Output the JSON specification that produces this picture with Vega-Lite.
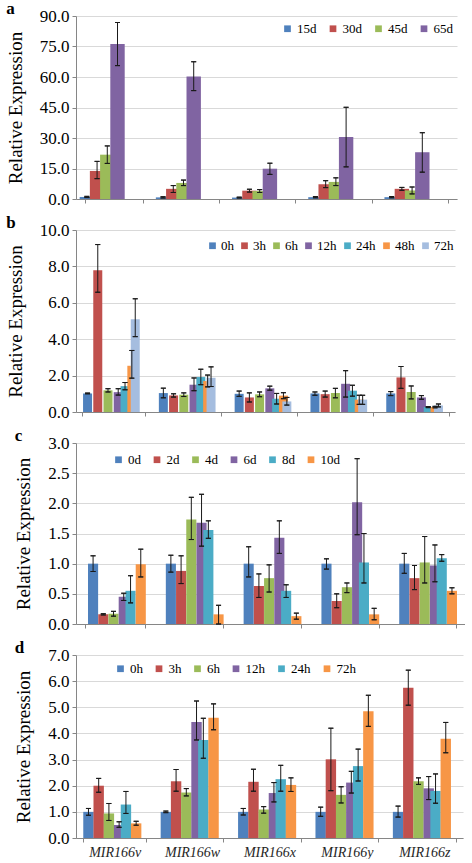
{
  "$schema": "https://vega.github.io/schema/vega-lite/v6.json",
  "padding": {"left": 6, "top": 0, "right": 0, "bottom": 0},
  "background": "white",
  "config": {
    "font": "Liberation Serif",
    "view": {"stroke": null},
    "style": {"guide-label": {"font": "Liberation Serif"}, "guide-title": {"font": "Liberation Serif"}, "group-title": {"font": "Liberation Serif"}},
    "axis": {
      "labelFont": "Liberation Serif", "labelFontSize": 17, "labelColor": "#000",
      "titleFont": "Liberation Serif", "titleFontSize": 19, "titleFontWeight": "normal", "titleColor": "#000",
      "domainColor": "#868686", "tickColor": "#868686", "gridColor": "#D9D9D9", "tickSize": 4, "labelPadding": 3
    },
    "legend": {
      "labelFont": "Liberation Serif", "labelFontSize": 13, "labelColor": "#000",
      "symbolType": "square", "symbolSize": 45, "symbolStrokeWidth": 0, "gridAlign": "each",
      "direction": "horizontal", "orient": "none", "padding": 0, "labelOffset": 3, "columnPadding": 9.5
    },
    "title": {"font": "Liberation Serif", "fontSize": 17, "fontWeight": "bold", "color": "#000", "anchor": "start", "frame": "bounds", "offset": -11}
  },
  "datasets": {
    "a": [
      {"g": "MIR166v", "t": "15d", "v": 1.0, "lo": 0.7, "hi": 1.3},
      {"g": "MIR166v", "t": "30d", "v": 13.8, "lo": 10.0, "hi": 18.5},
      {"g": "MIR166v", "t": "45d", "v": 21.8, "lo": 17.5, "hi": 26.1},
      {"g": "MIR166v", "t": "65d", "v": 76.2, "lo": 65.6, "hi": 86.8},
      {"g": "MIR166w", "t": "15d", "v": 0.8, "lo": 0.5, "hi": 1.1},
      {"g": "MIR166w", "t": "30d", "v": 5.0, "lo": 3.2, "hi": 6.6},
      {"g": "MIR166w", "t": "45d", "v": 7.9, "lo": 6.6, "hi": 9.3},
      {"g": "MIR166w", "t": "65d", "v": 60.2, "lo": 53.3, "hi": 67.5},
      {"g": "MIR166x", "t": "15d", "v": 0.7, "lo": 0.5, "hi": 0.9},
      {"g": "MIR166x", "t": "30d", "v": 4.1, "lo": 3.4, "hi": 4.8},
      {"g": "MIR166x", "t": "45d", "v": 3.9, "lo": 3.2, "hi": 4.6},
      {"g": "MIR166x", "t": "65d", "v": 14.9, "lo": 12.1, "hi": 17.6},
      {"g": "MIR166y", "t": "15d", "v": 0.9, "lo": 0.6, "hi": 1.2},
      {"g": "MIR166y", "t": "30d", "v": 7.3, "lo": 5.6, "hi": 9.0},
      {"g": "MIR166y", "t": "45d", "v": 8.4, "lo": 6.6, "hi": 10.4},
      {"g": "MIR166y", "t": "65d", "v": 30.5, "lo": 15.8, "hi": 45.1},
      {"g": "MIR166z", "t": "15d", "v": 0.9, "lo": 0.6, "hi": 1.2},
      {"g": "MIR166z", "t": "30d", "v": 5.0, "lo": 4.3, "hi": 5.7},
      {"g": "MIR166z", "t": "45d", "v": 4.2, "lo": 2.5, "hi": 5.9},
      {"g": "MIR166z", "t": "65d", "v": 23.0, "lo": 13.2, "hi": 32.6}
    ],
    "b": [
      {"g": "MIR166v", "t": "0h", "v": 1.02, "lo": 1.0, "hi": 1.04},
      {"g": "MIR166v", "t": "3h", "v": 7.79, "lo": 6.58, "hi": 9.2},
      {"g": "MIR166v", "t": "6h", "v": 1.19, "lo": 1.1, "hi": 1.28},
      {"g": "MIR166v", "t": "12h", "v": 1.09, "lo": 0.93, "hi": 1.28},
      {"g": "MIR166v", "t": "24h", "v": 1.42, "lo": 1.22, "hi": 1.62},
      {"g": "MIR166v", "t": "48h", "v": 2.54, "lo": 1.86, "hi": 3.38},
      {"g": "MIR166v", "t": "72h", "v": 5.09, "lo": 4.14, "hi": 6.22},
      {"g": "MIR166w", "t": "0h", "v": 1.04, "lo": 0.78, "hi": 1.31},
      {"g": "MIR166w", "t": "3h", "v": 0.91, "lo": 0.82, "hi": 1.0},
      {"g": "MIR166w", "t": "6h", "v": 0.95, "lo": 0.85, "hi": 1.05},
      {"g": "MIR166w", "t": "12h", "v": 1.5, "lo": 1.17, "hi": 1.87},
      {"g": "MIR166w", "t": "24h", "v": 1.92, "lo": 1.5, "hi": 2.35},
      {"g": "MIR166w", "t": "48h", "v": 1.7, "lo": 1.38, "hi": 2.03},
      {"g": "MIR166w", "t": "72h", "v": 1.88, "lo": 1.4, "hi": 2.48},
      {"g": "MIR166x", "t": "0h", "v": 1.0, "lo": 0.86, "hi": 1.15},
      {"g": "MIR166x", "t": "3h", "v": 0.8, "lo": 0.55, "hi": 1.05},
      {"g": "MIR166x", "t": "6h", "v": 0.97, "lo": 0.84, "hi": 1.1},
      {"g": "MIR166x", "t": "12h", "v": 1.3, "lo": 1.2, "hi": 1.42},
      {"g": "MIR166x", "t": "24h", "v": 0.73, "lo": 0.44, "hi": 1.02},
      {"g": "MIR166x", "t": "48h", "v": 0.9, "lo": 0.73, "hi": 1.06},
      {"g": "MIR166x", "t": "72h", "v": 0.58, "lo": 0.38, "hi": 0.8},
      {"g": "MIR166y", "t": "0h", "v": 1.02, "lo": 0.92, "hi": 1.1},
      {"g": "MIR166y", "t": "3h", "v": 0.98, "lo": 0.82, "hi": 1.15},
      {"g": "MIR166y", "t": "6h", "v": 1.04, "lo": 0.78, "hi": 1.3},
      {"g": "MIR166y", "t": "12h", "v": 1.55, "lo": 0.82, "hi": 2.27},
      {"g": "MIR166y", "t": "24h", "v": 1.17, "lo": 0.87, "hi": 1.47},
      {"g": "MIR166y", "t": "48h", "v": 0.68, "lo": 0.42, "hi": 0.92},
      {"g": "MIR166y", "t": "72h", "v": 0.68, "lo": 0.42, "hi": 0.92},
      {"g": "MIR166z", "t": "0h", "v": 1.02, "lo": 0.9, "hi": 1.12},
      {"g": "MIR166z", "t": "3h", "v": 1.9, "lo": 1.3, "hi": 2.5},
      {"g": "MIR166z", "t": "6h", "v": 1.1, "lo": 0.72, "hi": 1.43},
      {"g": "MIR166z", "t": "12h", "v": 0.8, "lo": 0.7, "hi": 0.9},
      {"g": "MIR166z", "t": "24h", "v": 0.27, "lo": 0.24, "hi": 0.3},
      {"g": "MIR166z", "t": "48h", "v": 0.27, "lo": 0.23, "hi": 0.31},
      {"g": "MIR166z", "t": "72h", "v": 0.36, "lo": 0.28, "hi": 0.44}
    ],
    "c": [
      {"g": "MIR166v", "t": "0d", "v": 1.0, "lo": 0.87, "hi": 1.13},
      {"g": "MIR166v", "t": "2d", "v": 0.16, "lo": 0.15, "hi": 0.17},
      {"g": "MIR166v", "t": "4d", "v": 0.17, "lo": 0.13, "hi": 0.21},
      {"g": "MIR166v", "t": "6d", "v": 0.45, "lo": 0.39, "hi": 0.51},
      {"g": "MIR166v", "t": "8d", "v": 0.55, "lo": 0.35, "hi": 0.8},
      {"g": "MIR166v", "t": "10d", "v": 0.99, "lo": 0.78, "hi": 1.24},
      {"g": "MIR166w", "t": "0d", "v": 1.0, "lo": 0.86, "hi": 1.14},
      {"g": "MIR166w", "t": "2d", "v": 0.88, "lo": 0.67, "hi": 1.13},
      {"g": "MIR166w", "t": "4d", "v": 1.73, "lo": 1.4, "hi": 2.1},
      {"g": "MIR166w", "t": "6d", "v": 1.68, "lo": 1.29, "hi": 2.15},
      {"g": "MIR166w", "t": "8d", "v": 1.56, "lo": 1.42, "hi": 1.71},
      {"g": "MIR166w", "t": "10d", "v": 0.16, "lo": 0.0, "hi": 0.31},
      {"g": "MIR166x", "t": "0d", "v": 1.0, "lo": 0.78, "hi": 1.28},
      {"g": "MIR166x", "t": "2d", "v": 0.63, "lo": 0.44, "hi": 0.83},
      {"g": "MIR166x", "t": "4d", "v": 0.76, "lo": 0.53, "hi": 0.98},
      {"g": "MIR166x", "t": "6d", "v": 1.43, "lo": 1.17, "hi": 1.71},
      {"g": "MIR166x", "t": "8d", "v": 0.55, "lo": 0.44, "hi": 0.65},
      {"g": "MIR166x", "t": "10d", "v": 0.13, "lo": 0.08, "hi": 0.18},
      {"g": "MIR166y", "t": "0d", "v": 1.0, "lo": 0.91, "hi": 1.08},
      {"g": "MIR166y", "t": "2d", "v": 0.38, "lo": 0.27, "hi": 0.5},
      {"g": "MIR166y", "t": "4d", "v": 0.61, "lo": 0.52, "hi": 0.68},
      {"g": "MIR166y", "t": "6d", "v": 2.02, "lo": 1.48, "hi": 2.74},
      {"g": "MIR166y", "t": "8d", "v": 1.02, "lo": 0.68, "hi": 1.5},
      {"g": "MIR166y", "t": "10d", "v": 0.16, "lo": 0.07, "hi": 0.26},
      {"g": "MIR166z", "t": "0d", "v": 1.0, "lo": 0.84, "hi": 1.17},
      {"g": "MIR166z", "t": "2d", "v": 0.76, "lo": 0.57, "hi": 0.97},
      {"g": "MIR166z", "t": "4d", "v": 1.02, "lo": 0.68, "hi": 1.45},
      {"g": "MIR166z", "t": "6d", "v": 0.97, "lo": 0.7, "hi": 1.31},
      {"g": "MIR166z", "t": "8d", "v": 1.09, "lo": 1.04, "hi": 1.15},
      {"g": "MIR166z", "t": "10d", "v": 0.55, "lo": 0.5, "hi": 0.6}
    ],
    "d": [
      {"g": "MIR166v", "t": "0h", "v": 1.0, "lo": 0.87, "hi": 1.13},
      {"g": "MIR166v", "t": "3h", "v": 2.0, "lo": 1.75, "hi": 2.28},
      {"g": "MIR166v", "t": "6h", "v": 0.94, "lo": 0.67, "hi": 1.32},
      {"g": "MIR166v", "t": "12h", "v": 0.5, "lo": 0.41, "hi": 0.62},
      {"g": "MIR166v", "t": "24h", "v": 1.28, "lo": 0.94, "hi": 1.78},
      {"g": "MIR166v", "t": "72h", "v": 0.56, "lo": 0.49, "hi": 0.64},
      {"g": "MIR166w", "t": "0h", "v": 1.0, "lo": 0.97, "hi": 1.03},
      {"g": "MIR166w", "t": "3h", "v": 2.17, "lo": 1.79, "hi": 2.62},
      {"g": "MIR166w", "t": "6h", "v": 1.74, "lo": 1.61, "hi": 1.89},
      {"g": "MIR166w", "t": "12h", "v": 4.44, "lo": 3.75, "hi": 5.24},
      {"g": "MIR166w", "t": "24h", "v": 3.75, "lo": 3.05, "hi": 4.58},
      {"g": "MIR166w", "t": "72h", "v": 4.6, "lo": 4.14, "hi": 5.13},
      {"g": "MIR166x", "t": "0h", "v": 1.0, "lo": 0.88, "hi": 1.13},
      {"g": "MIR166x", "t": "3h", "v": 2.15, "lo": 1.79, "hi": 2.63},
      {"g": "MIR166x", "t": "6h", "v": 1.09, "lo": 0.95, "hi": 1.2},
      {"g": "MIR166x", "t": "12h", "v": 1.72, "lo": 1.38, "hi": 2.12},
      {"g": "MIR166x", "t": "24h", "v": 2.25, "lo": 1.79, "hi": 2.78},
      {"g": "MIR166x", "t": "72h", "v": 2.03, "lo": 1.78, "hi": 2.3},
      {"g": "MIR166y", "t": "0h", "v": 1.0, "lo": 0.83, "hi": 1.18},
      {"g": "MIR166y", "t": "3h", "v": 3.01, "lo": 1.81, "hi": 4.2},
      {"g": "MIR166y", "t": "6h", "v": 1.65, "lo": 1.34, "hi": 1.96},
      {"g": "MIR166y", "t": "12h", "v": 2.12, "lo": 1.72, "hi": 2.55},
      {"g": "MIR166y", "t": "24h", "v": 2.75, "lo": 2.18, "hi": 3.4},
      {"g": "MIR166y", "t": "72h", "v": 4.85, "lo": 4.27, "hi": 5.46},
      {"g": "MIR166z", "t": "0h", "v": 1.0, "lo": 0.8, "hi": 1.22},
      {"g": "MIR166z", "t": "3h", "v": 5.75, "lo": 5.08, "hi": 6.42},
      {"g": "MIR166z", "t": "6h", "v": 2.17, "lo": 2.05, "hi": 2.3},
      {"g": "MIR166z", "t": "12h", "v": 1.9, "lo": 1.47, "hi": 2.35},
      {"g": "MIR166z", "t": "24h", "v": 1.8, "lo": 1.33, "hi": 2.45},
      {"g": "MIR166z", "t": "72h", "v": 3.8, "lo": 3.26, "hi": 4.42}
    ]
  },
  "vconcat": [
    {
      "width": 381, "height": 183,
      "title": {"text": "a"},
      "data": {"name": "a"},
      "encoding": {
        "x": {"field": "g", "type": "nominal", "sort": null, "scale": {"type": "band", "paddingInner": 0.24, "paddingOuter": 0.12},
              "axis": {"title": null, "labels": false, "tickBand": "extent", "grid": false}},
        "xOffset": {"field": "t", "type": "nominal", "sort": ["15d", "30d", "45d", "65d"], "scale": {"type": "band", "paddingInner": 0, "paddingOuter": 0}},
        "y": {"field": "v", "type": "quantitative", "title": "Relative Expression",
              "scale": {"domain": [0, 90], "nice": false},
              "axis": {"values": [0, 15, 30, 45, 60, 75, 90], "format": ".1f", "titlePadding": 14, "labelOverlap": false, "labelFont": "Liberation Serif"}}
      },
      "layer": [
        {"mark": {"type": "bar", "width": 14.4},
         "encoding": {
           "color": {"field": "t", "type": "nominal",
                     "scale": {"domain": ["15d", "30d", "45d", "65d"], "range": ["#4F81BD", "#C0504D", "#9BBB59", "#8064A2"]},
                     "legend": {"title": null, "legendX": 205, "legendY": 6, "labelFont": "Liberation Serif"}}
         }},
        {"mark": {"type": "bar", "width": 1, "color": "#1a1a1a"},
         "encoding": {"y": {"field": "lo", "type": "quantitative"}, "y2": {"field": "hi"}}},
        {"mark": {"type": "bar", "width": 5, "fill": "#1a1a1a", "stroke": "#1a1a1a", "strokeWidth": 1},
         "encoding": {"y": {"field": "lo", "type": "quantitative"}, "y2": {"field": "lo"}}},
        {"mark": {"type": "bar", "width": 5, "fill": "#1a1a1a", "stroke": "#1a1a1a", "strokeWidth": 1},
         "encoding": {"y": {"field": "hi", "type": "quantitative"}, "y2": {"field": "hi"}}}
      ]
    },
    {
      "width": 379, "height": 182,
      "title": {"text": "b"},
      "data": {"name": "b"},
      "encoding": {
        "x": {"field": "g", "type": "nominal", "sort": null, "scale": {"type": "band", "paddingInner": 0.17, "paddingOuter": 0.085},
              "axis": {"title": null, "labels": false, "tickBand": "extent", "grid": false}},
        "xOffset": {"field": "t", "type": "nominal", "sort": ["0h", "3h", "6h", "12h", "24h", "48h", "72h"], "scale": {"type": "band", "paddingInner": 0, "paddingOuter": 0}},
        "y": {"field": "v", "type": "quantitative", "title": "Relative Expression",
              "scale": {"domain": [0, 10], "nice": false},
              "axis": {"values": [0, 2, 4, 6, 8, 10], "format": ".1f", "titlePadding": 14, "labelOverlap": false, "labelFont": "Liberation Serif"}}
      },
      "layer": [
        {"mark": {"type": "bar", "width": 9},
         "encoding": {
           "color": {"field": "t", "type": "nominal",
                     "scale": {"domain": ["0h", "3h", "6h", "12h", "24h", "48h", "72h"], "range": ["#4F81BD", "#C0504D", "#9BBB59", "#8064A2", "#4BACC6", "#F79646", "#A5BDDF"]},
                     "legend": {"title": null, "legendX": 130, "legendY": 9, "labelFont": "Liberation Serif", "columnPadding": 4, "labelOffset": 2}}
         }},
        {"mark": {"type": "bar", "width": 1, "color": "#1a1a1a"},
         "encoding": {"y": {"field": "lo", "type": "quantitative"}, "y2": {"field": "hi"}}},
        {"mark": {"type": "bar", "width": 5, "fill": "#1a1a1a", "stroke": "#1a1a1a", "strokeWidth": 1},
         "encoding": {"y": {"field": "lo", "type": "quantitative"}, "y2": {"field": "lo"}}},
        {"mark": {"type": "bar", "width": 5, "fill": "#1a1a1a", "stroke": "#1a1a1a", "strokeWidth": 1},
         "encoding": {"y": {"field": "hi", "type": "quantitative"}, "y2": {"field": "hi"}}}
      ]
    },
    {
      "width": 389, "height": 181,
      "title": {"text": "c"},
      "data": {"name": "c"},
      "encoding": {
        "x": {"field": "g", "type": "nominal", "sort": null, "scale": {"type": "band", "paddingInner": 0.22, "paddingOuter": 0.11},
              "axis": {"title": null, "labels": false, "tickBand": "extent", "grid": false}},
        "xOffset": {"field": "t", "type": "nominal", "sort": ["0d", "2d", "4d", "6d", "8d", "10d"], "scale": {"type": "band", "paddingInner": 0, "paddingOuter": 0}},
        "y": {"field": "v", "type": "quantitative", "title": "Relative Expression",
              "scale": {"domain": [0, 3], "nice": false},
              "axis": {"values": [0, 0.5, 1, 1.5, 2, 2.5, 3], "format": ".1f", "titlePadding": 14, "labelOverlap": false, "labelFont": "Liberation Serif"}}
      },
      "layer": [
        {"mark": {"type": "bar", "width": 10.1},
         "encoding": {
           "color": {"field": "t", "type": "nominal",
                     "scale": {"domain": ["0d", "2d", "4d", "6d", "8d", "10d"], "range": ["#4F81BD", "#C0504D", "#9BBB59", "#8064A2", "#4BACC6", "#F79646"]},
                     "legend": {"title": null, "legendX": 36, "legendY": 10, "labelFont": "Liberation Serif"}}
         }},
        {"mark": {"type": "bar", "width": 1, "color": "#1a1a1a"},
         "encoding": {"y": {"field": "lo", "type": "quantitative"}, "y2": {"field": "hi"}}},
        {"mark": {"type": "bar", "width": 5, "fill": "#1a1a1a", "stroke": "#1a1a1a", "strokeWidth": 1},
         "encoding": {"y": {"field": "lo", "type": "quantitative"}, "y2": {"field": "lo"}}},
        {"mark": {"type": "bar", "width": 5, "fill": "#1a1a1a", "stroke": "#1a1a1a", "strokeWidth": 1},
         "encoding": {"y": {"field": "hi", "type": "quantitative"}, "y2": {"field": "hi"}}}
      ]
    },
    {
      "width": 387, "height": 183,
      "title": {"text": "d"},
      "data": {"name": "d"},
      "encoding": {
        "x": {"field": "g", "type": "nominal", "sort": null, "scale": {"type": "band", "paddingInner": 0.19, "paddingOuter": 0.095},
              "axis": {"title": null, "labelAngle": 0, "labelFontStyle": "italic", "labelFontSize": 14, "labelFont": "Liberation Serif", "labelColor": "#262626", "labelPadding": 3, "tickBand": "extent", "grid": false}},
        "xOffset": {"field": "t", "type": "nominal", "sort": ["0h", "3h", "6h", "12h", "24h", "72h"], "scale": {"type": "band", "paddingInner": 0, "paddingOuter": 0}},
        "y": {"field": "v", "type": "quantitative", "title": "Relative Expression",
              "scale": {"domain": [0, 7], "nice": false},
              "axis": {"values": [0, 1, 2, 3, 4, 5, 6, 7], "format": ".1f", "titlePadding": 14, "labelOverlap": false, "labelFont": "Liberation Serif"}}
      },
      "layer": [
        {"mark": {"type": "bar", "width": 10.4},
         "encoding": {
           "color": {"field": "t", "type": "nominal",
                     "scale": {"domain": ["0h", "3h", "6h", "12h", "24h", "72h"], "range": ["#4F81BD", "#C0504D", "#9BBB59", "#8064A2", "#4BACC6", "#F79646"]},
                     "legend": {"title": null, "legendX": 38, "legendY": 7, "labelFont": "Liberation Serif"}}
         }},
        {"mark": {"type": "bar", "width": 1, "color": "#1a1a1a"},
         "encoding": {"y": {"field": "lo", "type": "quantitative"}, "y2": {"field": "hi"}}},
        {"mark": {"type": "bar", "width": 5, "fill": "#1a1a1a", "stroke": "#1a1a1a", "strokeWidth": 1},
         "encoding": {"y": {"field": "lo", "type": "quantitative"}, "y2": {"field": "lo"}}},
        {"mark": {"type": "bar", "width": 5, "fill": "#1a1a1a", "stroke": "#1a1a1a", "strokeWidth": 1},
         "encoding": {"y": {"field": "hi", "type": "quantitative"}, "y2": {"field": "hi"}}}
      ]
    }
  ],
  "spacing": 7,
  "align": "none",
  "resolve": {"scale": {"color": "independent"}, "legend": {"color": "independent"}}
}
